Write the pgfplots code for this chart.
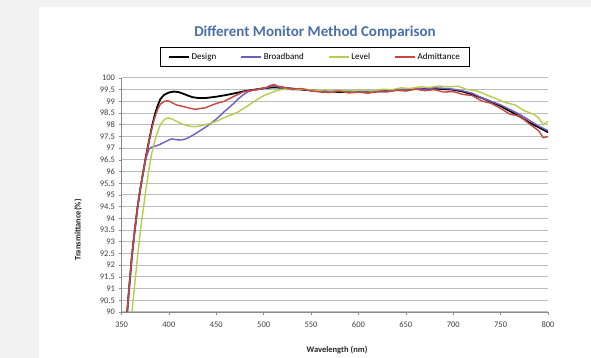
\documentclass[border=0pt]{standalone}
\usepackage{pgfplots}
\pgfplotsset{compat=1.18}
\usepackage{fontspec}
\setmainfont{Carlito}
\definecolor{bggray}{HTML}{F2F2F2}
\definecolor{titleblue}{HTML}{4A6FA5}
\definecolor{gridgray}{HTML}{BDBDBD}
\definecolor{axgray}{HTML}{8C8C8C}
\definecolor{bbpurple}{HTML}{6E5CC4}
\definecolor{lvgreen}{HTML}{B4CF4E}
\definecolor{adred}{HTML}{C8463C}
\begin{document}
\begin{tikzpicture}[x=1pt,y=1pt]
\useasboundingbox (0,0) rectangle (591,358);
\fill[bggray] (0,0) rectangle (591,358);
\fill[white] (39,0) rectangle (591,351);
\node[font=\bfseries\fontsize{15}{17}\selectfont, text=titleblue] at (315,326) {Different Monitor Method Comparison};
\node[font=\bfseries\fontsize{8.5}{9}\selectfont, rotate=90, text=black!85] at (78,128) {Transmittance(\%)};
\node[font=\bfseries\fontsize{8.5}{9}\selectfont, text=black!85] at (337,8) {Wavelength (nm)};
\begin{axis}[
  at={(121.5pt,46pt)}, anchor=south west,
  scale only axis, width=426.5pt, height=234pt,
  xmin=350, xmax=800, ymin=90, ymax=100,
  axis lines=left, axis line style={axgray, line width=0.8pt, -},
  xtick={350,400,450,500,550,600,650,700,750,800},
  ytick={90,90.5,91,91.5,92,92.5,93,93.5,94,94.5,95,95.5,96,96.5,97,97.5,98,98.5,99,99.5,100},
  ymajorgrids, grid style={gridgray, line width=1pt},
  tick style={axgray, line width=0.6pt},
  tick align=outside, major tick length=3pt,
  /pgf/number format/assume math mode=true,
  yticklabel style={/pgf/number format/fixed, /pgf/number format/precision=1, font=\fontsize{8.5}{9}\selectfont, text=black!75},
  xticklabel style={/pgf/number format/fixed, /pgf/number format/1000 sep={}, font=\fontsize{8.5}{9}\selectfont, text=black!75, yshift=-3pt},
  legend style={at={(0.4537,1.0897)}, anchor=center, draw=black, line width=1.3pt,
    font=\fontsize{9}{10}\selectfont, inner xsep=8pt, inner ysep=3.5pt,
    /tikz/every even column/.append style={column sep=22pt}},
  legend columns=4,
  legend image code/.code={\draw[#1, line width=1.5pt] (0pt,0pt) -- (20pt,0pt);},
  clip=true
]
\addplot[black, line width=1.8pt] coordinates {
(356,90.0) (358,91.0) (361,92.4) (364,93.5) (367,94.5) (370,95.3) (373,96.0) (376,96.7) (379,97.3) (382,97.9) (385,98.4) (388,98.8) (391,99.1) (395,99.28) (400,99.38) (405,99.42) (410,99.4) (415,99.33) (420,99.25) (425,99.18) (430,99.15) (435,99.14) (440,99.15) (450,99.2) (460,99.27) (470,99.35) (480,99.44) (490,99.5) (500,99.56) (510,99.6) (520,99.58) (530,99.55) (540,99.5) (550,99.47) (560,99.44) (580,99.4) (600,99.4) (620,99.42) (640,99.48) (660,99.53) (680,99.55) (700,99.5) (710,99.42) (720,99.3) (730,99.15) (740,98.98) (750,98.8) (760,98.58) (770,98.36) (780,98.1) (790,97.9) (800,97.68)
};
\addlegendentry{Design}
\addplot[bbpurple, line width=1.4pt] coordinates {
(356,90.0) (358,91.0) (361,92.4) (364,93.5) (367,94.5) (370,95.3) (373,96.0) (376,96.6) (379,96.95) (382,97.05) (385,97.08) (390,97.15) (395,97.25) (400,97.35) (403,97.4) (408,97.36) (413,97.35) (418,97.4) (423,97.5) (428,97.62) (433,97.75) (438,97.88) (443,98.02) (448,98.18) (453,98.35) (458,98.55) (463,98.72) (468,98.9) (473,99.1) (478,99.27) (483,99.4) (490,99.5) (500,99.55) (505,99.6) (510,99.7) (515,99.62) (520,99.6) (530,99.5) (540,99.52) (550,99.46) (560,99.44) (570,99.42) (580,99.46) (590,99.4) (600,99.44) (610,99.42) (620,99.46) (630,99.44) (640,99.5) (650,99.52) (660,99.56) (670,99.52) (680,99.58) (690,99.56) (700,99.52) (710,99.45) (720,99.35) (730,99.15) (740,99.0) (750,98.85) (760,98.65) (770,98.45) (780,98.2) (790,97.95) (800,97.75)
};
\addlegendentry{Broadband}
\addplot[lvgreen, line width=1.4pt] coordinates {
(361,90.0) (364,91.2) (367,92.4) (370,93.5) (373,94.4) (376,95.3) (379,96.1) (382,96.8) (385,97.3) (388,97.7) (391,98.0) (395,98.22) (399,98.3) (403,98.25) (408,98.15) (413,98.05) (418,97.98) (423,97.93) (428,97.92) (433,97.95) (438,98.0) (443,98.05) (448,98.12) (453,98.2) (458,98.3) (463,98.38) (468,98.46) (473,98.55) (478,98.68) (483,98.8) (488,98.95) (493,99.07) (498,99.2) (503,99.3) (508,99.37) (513,99.45) (518,99.5) (525,99.55) (535,99.5) (545,99.52) (555,99.45) (565,99.5) (575,99.42) (585,99.48) (595,99.45) (605,99.5) (615,99.44) (625,99.52) (635,99.5) (645,99.58) (655,99.55) (665,99.62) (675,99.6) (685,99.66) (695,99.62) (705,99.65) (715,99.5) (725,99.45) (735,99.28) (745,99.12) (755,98.95) (765,98.85) (775,98.6) (785,98.45) (790,98.3) (795,98.0) (800,98.15)
};
\addlegendentry{Level}
\addplot[adred, line width=1.4pt] coordinates {
(356,90.0) (358,91.0) (361,92.4) (364,93.5) (367,94.5) (370,95.3) (373,96.0) (376,96.7) (379,97.3) (382,97.85) (385,98.3) (388,98.65) (391,98.88) (395,99.0) (399,99.03) (403,98.95) (408,98.85) (413,98.8) (418,98.75) (423,98.7) (428,98.66) (433,98.7) (438,98.72) (443,98.8) (448,98.88) (453,98.95) (458,99.0) (463,99.1) (468,99.2) (473,99.3) (478,99.4) (483,99.45) (488,99.48) (493,99.5) (498,99.55) (503,99.6) (507,99.68) (511,99.72) (515,99.65) (520,99.62) (530,99.52) (540,99.55) (550,99.45) (560,99.4) (570,99.38) (580,99.44) (590,99.36) (600,99.4) (610,99.35) (620,99.42) (630,99.4) (640,99.48) (650,99.44) (660,99.52) (670,99.46) (680,99.5) (690,99.4) (700,99.42) (710,99.3) (720,99.25) (730,99.02) (740,98.92) (750,98.7) (760,98.45) (770,98.38) (780,98.05) (790,97.75) (795,97.45) (800,97.5)
};
\addlegendentry{Admittance}
\end{axis}
\end{tikzpicture}
\end{document}
